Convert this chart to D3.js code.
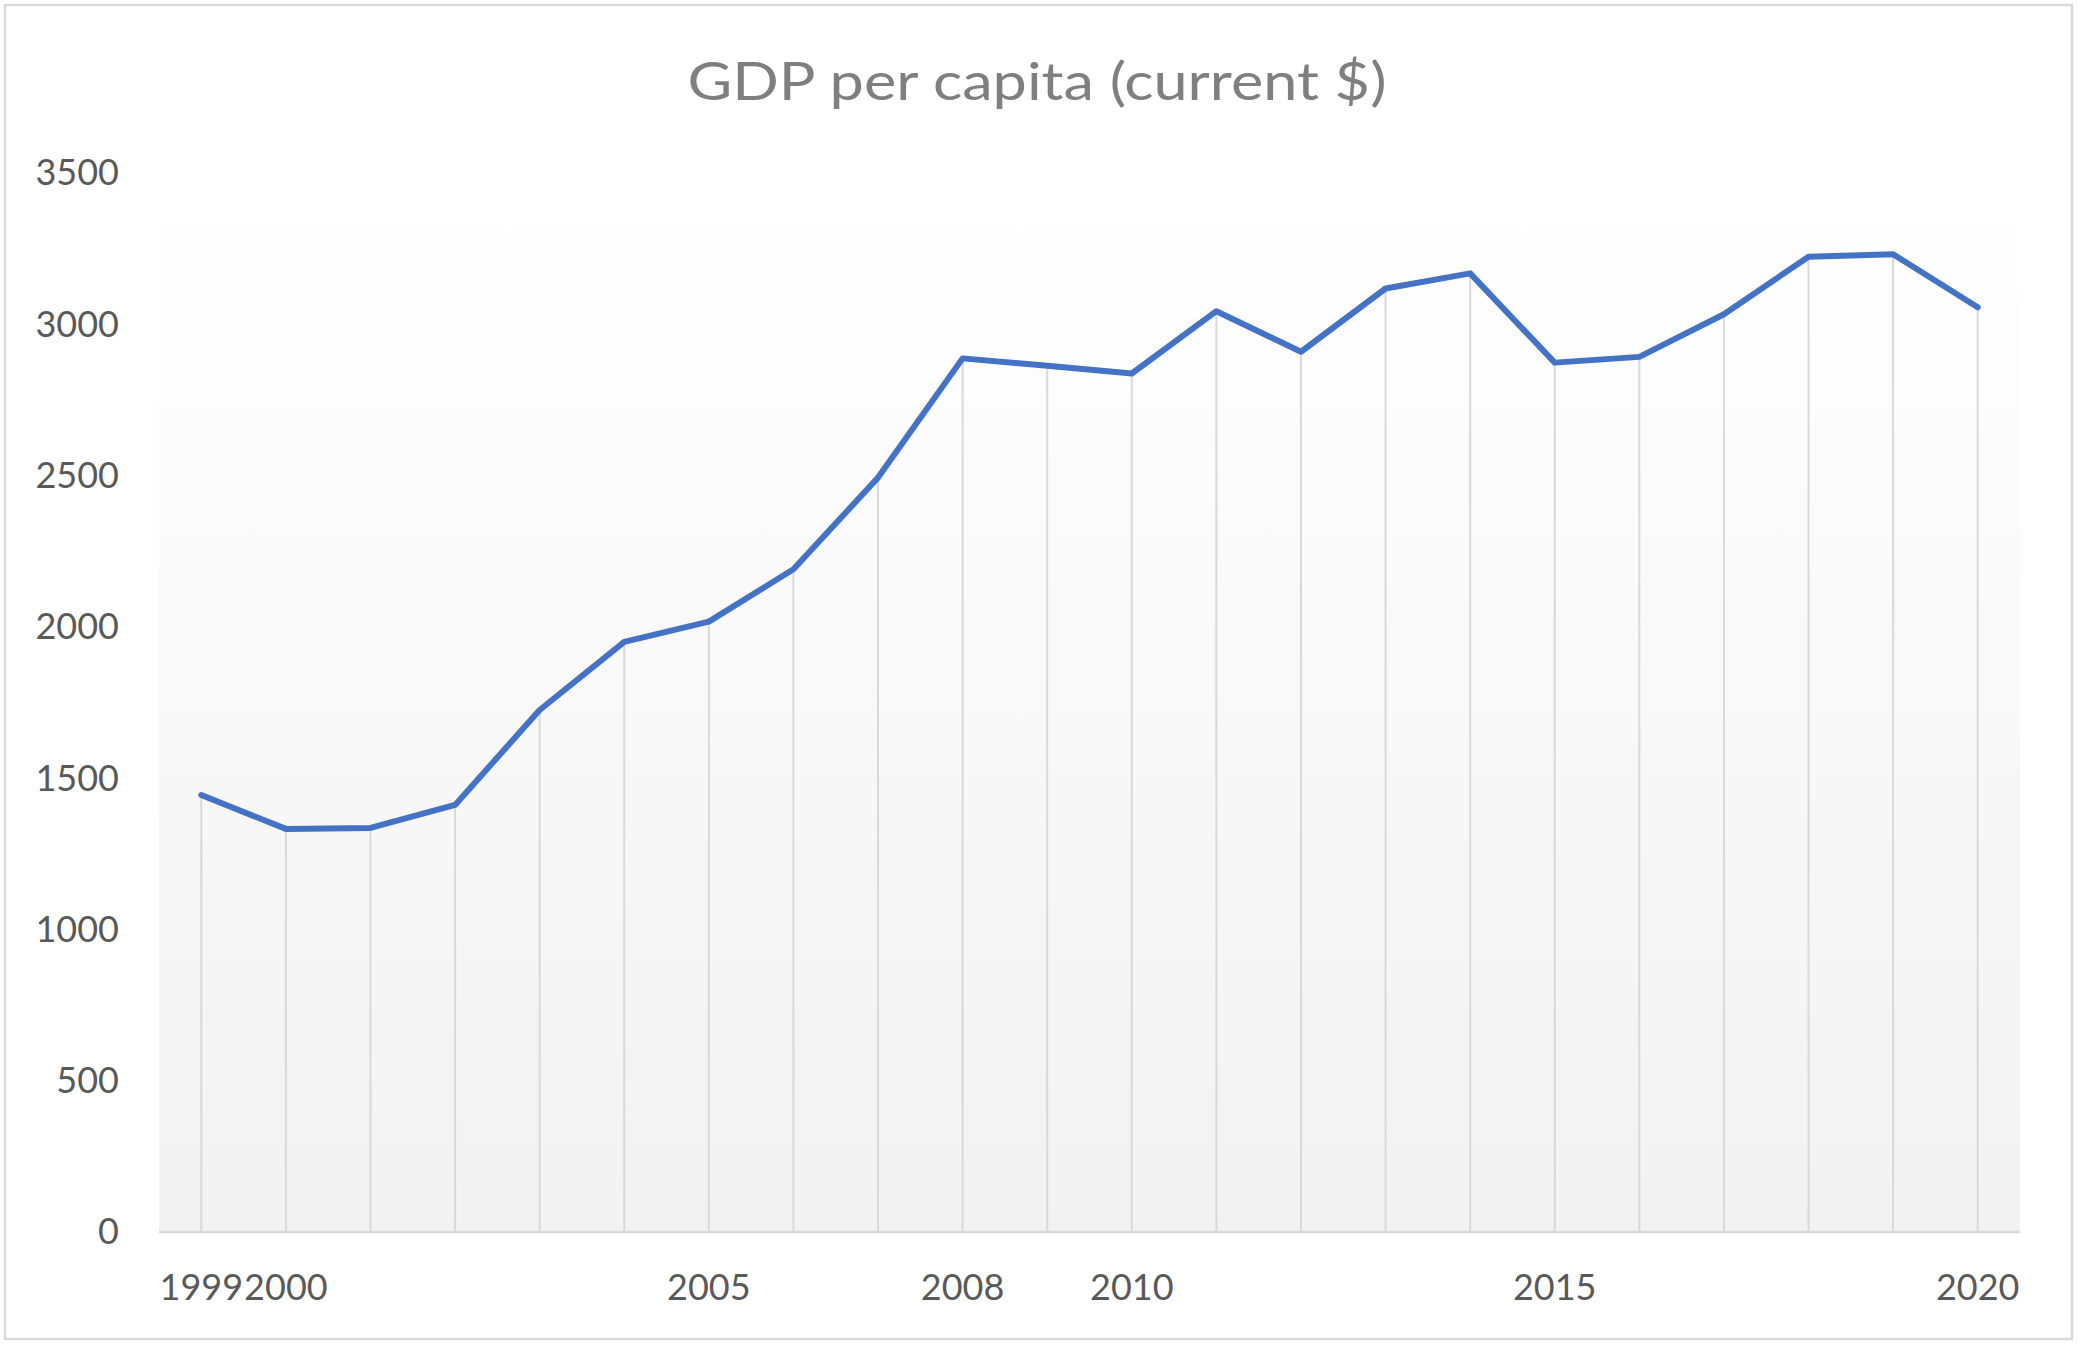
<!DOCTYPE html>
<html>
<head>
<meta charset="utf-8">
<script src="https://cdn.jsdelivr.net/npm/d3@7"></script>
<style>
  html, body { margin: 0; padding: 0; background: #ffffff; }
  svg { display: block; }
  text { font-family: Lato, "Open Sans", sans-serif; }
</style>
</head>
<body>
<svg id="chart" width="2080" height="1347"></svg>
<script>
// ---- data ----
const years = ["1999","2000","2001","2002","2003","2004","2005","2006","2007","2008","2009","2010",
               "2011","2012","2013","2014","2015","2016","2017","2018","2019","2020"];
const gdpPerCapita = [1441, 1329, 1332, 1408, 1722, 1947, 2014, 2187, 2490, 2884, 2860, 2834,
                      3040, 2906, 3115, 3165, 2870, 2889, 3030, 3220, 3228, 3053];
const xTickLabels = ["1999","2000","","","","","2005","","","2008","","2010",
                     "","","","","2015","","","","","2020"];
const yTickValues = [0, 500, 1000, 1500, 2000, 2500, 3000, 3500];
const chartTitle = "GDP per capita (current $)";

// ---- layout ----
const W = 2080, H = 1347;
const plot = { left: 159, right: 2020, top: 172, bottom: 1231 };

const svg = d3.select("#chart");

// outer border
svg.append("rect")
  .attr("x", 5).attr("y", 5)
  .attr("width", 2067).attr("height", 1334)
  .attr("fill", "#ffffff")
  .attr("stroke", "#d9d9d9")
  .attr("stroke-width", 2.5);

// gradient for plot area
const defs = svg.append("defs");
const grad = defs.append("linearGradient")
  .attr("id", "plotGrad")
  .attr("x1", 0).attr("y1", 0).attr("x2", 0).attr("y2", 1);
grad.append("stop").attr("offset", "0%").attr("stop-color", "#ffffff");
grad.append("stop").attr("offset", "100%").attr("stop-color", "#f2f2f2");

const x = d3.scaleBand().domain(years).range([plot.left, plot.right]).padding(0);
const y = d3.scaleLinear().domain([0, 3500]).range([plot.bottom, plot.top]);
const cx = d => x(d) + x.bandwidth() / 2;

svg.append("rect")
  .attr("x", plot.left).attr("y", plot.top)
  .attr("width", plot.right - plot.left)
  .attr("height", plot.bottom - plot.top)
  .attr("fill", "url(#plotGrad)");

// title
svg.append("text")
  .attr("x", 1037).attr("y", 100)
  .attr("text-anchor", "middle")
  .attr("font-size", 53)
  .attr("fill", "#7f7f7f")
  .attr("textLength", 699)
  .attr("lengthAdjust", "spacingAndGlyphs")
  .text(chartTitle);

// drop lines
const data = years.map((yr, i) => ({ yr, v: gdpPerCapita[i] }));
svg.append("g").selectAll("line")
  .data(data).join("line")
  .attr("x1", d => cx(d.yr)).attr("x2", d => cx(d.yr))
  .attr("y1", d => y(d.v)).attr("y2", y(0))
  .attr("stroke", "#d9d9d9")
  .attr("stroke-width", 2);

// x axis line
svg.append("line")
  .attr("x1", plot.left).attr("x2", plot.right)
  .attr("y1", y(0) + 1).attr("y2", y(0) + 1)
  .attr("stroke", "#d9d9d9").attr("stroke-width", 2.5);

// y axis
const yAxis = d3.axisLeft(y).tickValues(yTickValues).tickSize(0).tickPadding(40)
  .tickFormat(d3.format("d"));
const gy = svg.append("g").attr("transform", `translate(${plot.left},0)`).call(yAxis);
gy.select(".domain").remove();
gy.selectAll("text")
  .attr("font-family", "Lato, 'Open Sans', sans-serif")
  .attr("font-size", 36)
  .attr("fill", "#595959")
  .attr("dy", "0.36em");

// x axis
const xAxis = d3.axisBottom(x).tickSize(0).tickPadding(0)
  .tickFormat((d, i) => xTickLabels[i]);
const gx = svg.append("g").attr("transform", `translate(0,${plot.bottom})`).call(xAxis);
gx.select(".domain").remove();
gx.selectAll("text")
  .attr("font-family", "Lato, 'Open Sans', sans-serif")
  .attr("font-size", 36)
  .attr("fill", "#595959")
  .attr("y", 69)
  .attr("dy", 0);

// line
const line = d3.line().x(d => cx(d.yr)).y(d => y(d.v));
svg.append("path")
  .datum(data)
  .attr("d", line)
  .attr("fill", "none")
  .attr("stroke", "#4472c4")
  .attr("stroke-width", 6)
  .attr("stroke-linejoin", "round")
  .attr("stroke-linecap", "round");
</script>
</body>
</html>
